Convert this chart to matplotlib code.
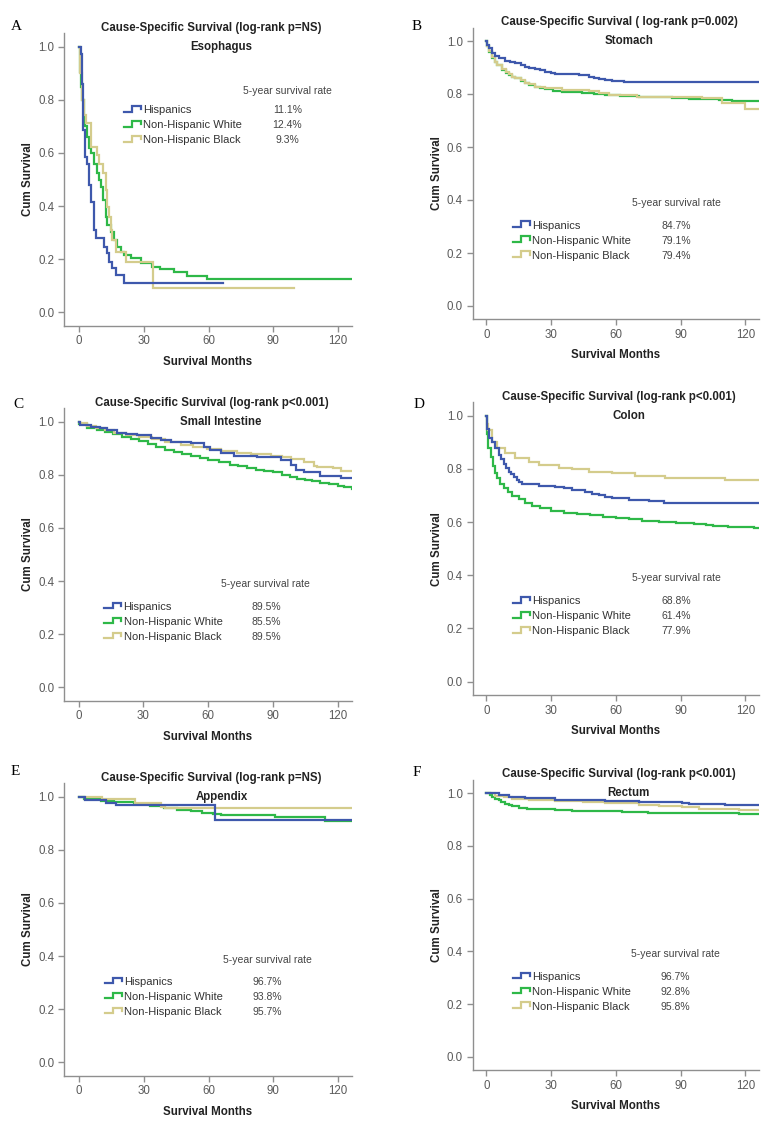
import numpy as np
import matplotlib.pyplot as plt
from matplotlib.ticker import FormatStrFormatter

plt.rcParams['font.family'] = ['Liberation Sans', 'DejaVu Sans']

groups = ['Hispanics', 'Non-Hispanic White', 'Non-Hispanic Black']
colors = ['#3e58ac', '#2eb848', '#d4cc8c']

# A - Esophagus
eso_t_hisp = [0, 0.8, 1.3, 2.0, 2.6, 3.9, 4.6, 5.7, 7.0, 7.7, 11.6, 12.8, 13.9, 15.4, 17.0, 20.8, 66.9]
eso_s_hisp = [1.0, 0.972, 0.86, 0.686, 0.586, 0.56, 0.48, 0.417, 0.31, 0.279, 0.247, 0.222, 0.19, 0.166, 0.14, 0.112, 0.112]
eso_t_white = [0, 0.3, 1.0, 1.6, 2.3, 3.0, 3.8, 4.6, 5.4, 7.0, 8.5, 9.3, 10.0, 11.3, 12.4, 13.1, 14.7, 16.2, 17.8,
               19.3, 20.8, 23.9, 28.6, 33.8, 37.7, 43.9, 50.0, 59.3, 126.5]
eso_s_white = [1.0, 0.906, 0.85, 0.80, 0.74, 0.70, 0.66, 0.62, 0.60, 0.56, 0.523, 0.498, 0.473, 0.423, 0.36, 0.329,
               0.304, 0.272, 0.247, 0.228, 0.216, 0.203, 0.187, 0.172, 0.162, 0.153, 0.137, 0.124, 0.124]
eso_t_black = [0, 0.5, 1.5, 2.3, 3.1, 5.4, 8.5, 9.3, 11.3, 12.4, 13.1, 13.9, 14.7, 15.4, 17.0, 21.6, 34.5, 99.5]
eso_s_black = [1.0, 0.9, 0.8, 0.743, 0.711, 0.624, 0.592, 0.56, 0.523, 0.46, 0.398, 0.36, 0.31, 0.272, 0.228, 0.19,
               0.093, 0.093]
eso_rates = ['11.1%', '12.4%', '9.3%']

# B - Stomach
sto_t_hisp = [0, 0.5, 1.1, 2.6, 4, 5.7, 8.8, 11, 13.5, 16, 18, 20, 22.7, 25, 27.4, 30, 32, 42.8, 47.4, 50, 52, 55,
              58.2, 63.6, 126.5]
sto_s_hisp = [1.0, 0.985, 0.972, 0.953, 0.944, 0.935, 0.926, 0.921, 0.916, 0.91, 0.903, 0.898, 0.893, 0.889, 0.884,
              0.879, 0.875, 0.872, 0.865, 0.86, 0.855, 0.852, 0.85, 0.844, 0.844]
sto_t_white = [0, 0.5, 1.1, 2.6, 4, 5, 7.3, 9, 10.4, 12, 13.5, 16, 18, 20, 22.7, 25, 27.4, 31, 35, 40, 44.3, 50,
               55.1, 62, 70.6, 78, 86, 94, 101.5, 108, 113.8, 120, 126.5]
sto_s_white = [1.0, 0.98, 0.96, 0.935, 0.92, 0.909, 0.89, 0.88, 0.872, 0.865, 0.859, 0.85, 0.84, 0.833, 0.825, 0.821,
               0.818, 0.813, 0.809, 0.806, 0.802, 0.799, 0.796, 0.792, 0.79, 0.787, 0.784, 0.782, 0.78, 0.778, 0.775,
               0.774, 0.774]
sto_t_black = [0, 0.5, 1.1, 2.6, 4, 5, 7.3, 9, 10.4, 12, 13.5, 16, 18, 20, 22.7, 27.4, 35, 47.4, 52, 56.7, 70, 85,
               100, 109, 120, 126.5]
sto_s_black = [1.0, 0.98, 0.962, 0.938, 0.922, 0.911, 0.893, 0.882, 0.874, 0.866, 0.86, 0.851, 0.843, 0.836, 0.828,
               0.821, 0.815, 0.813, 0.805, 0.796, 0.79, 0.787, 0.784, 0.767, 0.742, 0.742]
sto_rates = ['84.7%', '79.1%', '79.4%']

# C - Small intestine
si_t_hisp = [0, 0.5, 5.5, 10, 13.3, 17.9, 22, 27.2, 33.3, 38, 42.6, 51.9, 58, 61, 66, 72, 82.7, 93.6, 98.2, 100.5,
             104.4, 112, 121.3, 126.5]
si_s_hisp = [1.0, 0.987, 0.981, 0.975, 0.969, 0.956, 0.953, 0.95, 0.937, 0.931, 0.925, 0.918, 0.906, 0.893, 0.882,
             0.871, 0.868, 0.856, 0.837, 0.818, 0.812, 0.797, 0.787, 0.787]
si_t_white = [0, 0.3, 4, 8.6, 12, 16, 20, 24, 28, 32, 36, 40, 44, 48, 52, 56, 60, 65, 70, 74, 78, 82, 86, 90, 94, 98,
              101, 105, 108, 112, 116, 120, 123, 126.5]
si_s_white = [1.0, 0.99, 0.977, 0.968, 0.96, 0.952, 0.944, 0.935, 0.926, 0.916, 0.905, 0.894, 0.886, 0.877, 0.869,
              0.862, 0.855, 0.847, 0.838, 0.832, 0.826, 0.82, 0.815, 0.81, 0.801, 0.793, 0.786, 0.78, 0.775, 0.77,
              0.764, 0.758, 0.754, 0.746]
si_t_black = [0, 0.5, 4, 8, 12, 16.4, 22, 28, 34, 40, 47.3, 53, 59.6, 66, 73.5, 80, 89, 94, 98.2, 104.4, 109, 110.5,
              118, 121.3, 126.5]
si_s_black = [1.0, 0.994, 0.983, 0.975, 0.967, 0.959, 0.95, 0.942, 0.934, 0.925, 0.912, 0.904, 0.897, 0.889, 0.881,
              0.878, 0.871, 0.866, 0.858, 0.849, 0.833, 0.828, 0.825, 0.816, 0.816]
si_rates = ['89.5%', '85.5%', '89.5%']

# D - Colon
col_t_hisp = [0, 0.5, 1.1, 2.6, 4.2, 5.7, 7, 8, 9.2, 10.4, 11.5, 12.7, 14, 15, 16.5, 24.3, 32, 36, 39.7, 45.9, 49,
              52, 55, 58.2, 66, 75.2, 82.2, 126.5]
col_s_hisp = [1.0, 0.95, 0.915, 0.9, 0.877, 0.852, 0.838, 0.82, 0.805, 0.79, 0.78, 0.77, 0.76, 0.752, 0.743, 0.737,
              0.733, 0.727, 0.72, 0.712, 0.706, 0.70, 0.694, 0.689, 0.683, 0.68, 0.67, 0.67]
col_t_white = [0, 0.3, 1, 2, 3, 4, 5, 6.5, 8, 10, 12, 15, 18, 21, 25, 30, 36, 42, 48, 54, 60, 66, 72, 80, 88, 96, 102,
               105, 112, 118, 124, 126.5]
col_s_white = [1.0, 0.93, 0.88, 0.845, 0.81, 0.785, 0.765, 0.745, 0.728, 0.712, 0.698, 0.685, 0.672, 0.662, 0.652,
               0.642, 0.635, 0.63, 0.626, 0.62, 0.614, 0.61, 0.605, 0.601, 0.598, 0.594, 0.59, 0.585, 0.583, 0.581,
               0.577, 0.577]
col_t_black = [0, 0.5, 1, 2.6, 5, 8.8, 13.4, 19.6, 24.3, 33.5, 39.7, 47.4, 58.2, 69, 82.9, 101.5, 110.7, 126.5]
col_s_black = [1.0, 0.97, 0.946, 0.902, 0.877, 0.858, 0.84, 0.825, 0.815, 0.805, 0.80, 0.787, 0.783, 0.773, 0.767,
               0.764, 0.757, 0.757]
col_rates = ['68.8%', '61.4%', '77.9%']

# E - Appendix
app_t_hisp = [0, 2.6, 12.4, 17, 62.9, 126.5]
app_s_hisp = [1.0, 0.987, 0.977, 0.967, 0.914, 0.914]
app_t_white = [0, 2.3, 10, 16.2, 25.5, 33, 39.4, 45.6, 51.7, 57, 62, 66, 91, 114, 126.5]
app_s_white = [1.0, 0.991, 0.985, 0.979, 0.972, 0.966, 0.958, 0.951, 0.945, 0.940, 0.934, 0.930, 0.925, 0.908, 0.908]
app_t_black = [0, 10.8, 26, 37.8, 40, 126.5]
app_s_black = [1.0, 0.99, 0.975, 0.962, 0.957, 0.957]
app_rates = ['96.7%', '93.8%', '95.7%']

# F - Rectum
rec_t_hisp = [0, 5.7, 10.4, 18, 32, 55, 70.6, 90.7, 94, 110.7, 126.5]
rec_s_hisp = [1.0, 0.992, 0.986, 0.982, 0.976, 0.971, 0.967, 0.964, 0.961, 0.954, 0.954]
rec_t_white = [0, 1.5, 2.6, 4, 5.7, 7, 8.8, 10.5, 12, 15, 19, 24.3, 32, 39.7, 50, 63, 75, 86, 100, 117, 126.5]
rec_s_white = [1.0, 0.992, 0.986, 0.98, 0.974, 0.967, 0.961, 0.955, 0.95, 0.945, 0.942, 0.94, 0.936, 0.933, 0.931,
               0.929, 0.927, 0.925, 0.924, 0.922, 0.922]
rec_t_black = [0, 4.2, 8, 12, 20, 32, 45, 55, 70.6, 80, 90.7, 98.4, 117, 126.5]
rec_s_black = [1.0, 0.99, 0.985, 0.98, 0.975, 0.97, 0.966, 0.963, 0.957, 0.952, 0.948, 0.942, 0.935, 0.935]
rec_rates = ['96.7%', '92.8%', '95.8%']

letters = ['A', 'B', 'C', 'D', 'E', 'F']
sites = ['Esophagus', 'Stomach', 'Small Intestine', 'Colon', 'Appendix', 'Rectum']
titles = ['Cause-Specific Survival (log-rank p=NS)',
          'Cause-Specific Survival ( log-rank p=0.002)',
          'Cause-Specific Survival (log-rank p<0.001)',
          'Cause-Specific Survival (log-rank p<0.001)',
          'Cause-Specific Survival (log-rank p=NS)',
          'Cause-Specific Survival (log-rank p<0.001)']
curves = [
    [(eso_t_hisp, eso_s_hisp), (eso_t_white, eso_s_white), (eso_t_black, eso_s_black)],
    [(sto_t_hisp, sto_s_hisp), (sto_t_white, sto_s_white), (sto_t_black, sto_s_black)],
    [(si_t_hisp, si_s_hisp), (si_t_white, si_s_white), (si_t_black, si_s_black)],
    [(col_t_hisp, col_s_hisp), (col_t_white, col_s_white), (col_t_black, col_s_black)],
    [(app_t_hisp, app_s_hisp), (app_t_white, app_s_white), (app_t_black, app_s_black)],
    [(rec_t_hisp, rec_s_hisp), (rec_t_white, rec_s_white), (rec_t_black, rec_s_black)],
]
rates = [eso_rates, sto_rates, si_rates, col_rates, app_rates, rec_rates]

# layout in pixels: spine left, axis right end, x of month 0, y of 1.0, y of 0.0
W, H = 778, 1129
boxes = [(64, 352, 79, 46.7, 312.3), (472.7, 759.3, 486.3, 41, 306),
         (64.3, 351.7, 78.7, 421.7, 687.3), (472.7, 759.3, 486.3, 415.7, 681.7),
         (64, 352, 79, 796.7, 1062.3), (472.7, 759.3, 486.3, 793.3, 1056.7)]
letter_pos = [(16.7, 26.7), (416.7, 26.7), (18.3, 404.3), (419.3, 405), (15.7, 771.7), (416.7, 772.7)]
# legend: icon start month, first row level, header x month, header level
legend_pos = [(20.9, 0.762, 96.6, 0.834), (12.2, 0.303, 88, 0.388), (11.9, 0.303, 86.7, 0.390),
              (12.2, 0.303, 88, 0.389), (11.9, 0.303, 87.3, 0.385), (12.2, 0.303, 87.5, 0.390)]
ppm = 259 / 120.0
axis_grey = '#8f8f8f'
icon_x = np.array([0, 0.42, 0.42, 0.88, 0.88])
icon_y = np.array([-0.006, -0.006, 0.016, 0.016, 0.004])

fig = plt.figure(figsize=(W / 100, H / 100), dpi=100)

for i in range(6):
    left, right, x0, y1, y0 = boxes[i]
    unit = y0 - y1
    top = y1 - 0.05 * unit
    bottom = y0 + 0.05 * unit
    ax = fig.add_axes([left / W, 1 - bottom / H, (right - left) / W, (bottom - top) / H])
    ax.set_xlim((left - x0) / ppm, (right - x0) / ppm)
    ax.set_ylim(-0.05, 1.05)

    for k in [1, 2, 0]:
        t, s = curves[i][k]
        ax.step(t, s, where='post', color=colors[k], lw=1.6, solid_joinstyle='miter')

    for side in ['top', 'right']:
        ax.spines[side].set_visible(False)
    for side in ['left', 'bottom']:
        ax.spines[side].set_color(axis_grey)
        ax.spines[side].set_linewidth(1.0)
    ax.set_xticks([0, 30, 60, 90, 120])
    ax.set_yticks(np.arange(0, 1.01, 0.2))
    ax.yaxis.set_major_formatter(FormatStrFormatter('%.1f'))
    ax.tick_params(direction='out', length=4.5, width=1, color=axis_grey,
                   labelcolor='#5a5a5a', labelsize=8.3, pad=2.5)

    ax.text(61.5, 1.072, titles[i], ha='center', va='center', fontsize=8.3,
            fontweight='bold', color='#222222', clip_on=False)
    ax.text(66, 1.0, sites[i], ha='center', va='center', fontsize=8.3,
            fontweight='bold', color='#222222', clip_on=False)
    ax.text(-36 / (right - left), 0.5, 'Cum Survival', transform=ax.transAxes, rotation=90,
            ha='center', va='center', fontsize=8.3, fontweight='bold', color='#222222')
    ax.text(0.5, -36 / (bottom - top), 'Survival Months', transform=ax.transAxes,
            ha='center', va='center', fontsize=8.3, fontweight='bold', color='#222222')

    lx, ly, hx, hy = legend_pos[i]
    ax.text(hx, hy, '5-year survival rate', ha='center', va='center', fontsize=7.5, color='#444444')
    for k in range(3):
        yr = ly - k * 0.0565
        ax.plot(lx + icon_x * 9.0, yr + icon_y, color=colors[k], lw=1.6, clip_on=False,
                solid_joinstyle='miter')
        ax.text(lx + 8.9, yr, groups[k], ha='left', va='center', fontsize=8, color='#333333')
        ax.text(hx, yr, rates[i][k], ha='center', va='center', fontsize=7.5, color='#444444')

    lxp, lyp = letter_pos[i]
    fig.text(lxp / W, 1 - lyp / H, letters[i], ha='center', va='center', fontsize=11,
             family='Liberation Serif', color='black')

fig.savefig('out.png', dpi=100, facecolor='white')
